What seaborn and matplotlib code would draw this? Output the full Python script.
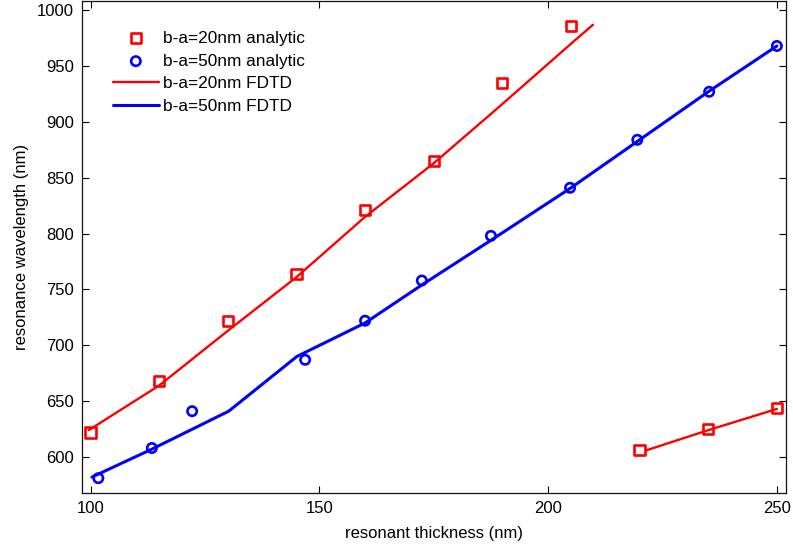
import numpy as np
import pandas as pd
import seaborn as sns
import matplotlib.pyplot as plt

# analytic results (markers)
t_red_an = [100, 115, 130, 145, 160, 175, 190, 205, 220, 235, 250]
w_red_an = [622, 668, 722, 764, 821, 865, 935, 986, 606, 625, 644]
t_blue_an = [101.7, 113.4, 122.2, 146.9, 160, 172.4, 187.5, 204.8, 219.5, 235.2, 250]
w_blue_an = [581, 608, 641, 687, 722, 758, 798, 841, 884, 927, 968]

# FDTD results (lines), red one has two branches
t_red_fd1 = [99.6, 115, 130, 145, 160, 175, 190, 205, 209.8]
w_red_fd1 = [624, 664, 713, 761, 815, 863, 916, 970, 987]
t_red_fd2 = [221.5, 235, 250]
w_red_fd2 = [606, 624, 643]
t_blue_fd = [100.3, 113.4, 130.2, 145.1, 160, 172.4, 187.5, 205, 220, 235, 250]
w_blue_fd = [582, 607, 641, 690, 720, 754, 794, 841, 884, 927, 968]

sns.set_style("ticks")
plt.rcParams['font.family'] = ['Liberation Sans', 'DejaVu Sans']
plt.rcParams['text.color'] = 'black'
plt.rcParams['axes.labelcolor'] = 'black'
plt.rcParams['xtick.color'] = 'black'
plt.rcParams['ytick.color'] = 'black'

fig = plt.figure(figsize=(7.93, 5.46), dpi=100)
ax = fig.add_axes([0.1038, 0.097, 0.8874, 0.9006])

sns.scatterplot(x=t_red_an, y=w_red_an, ax=ax, marker="s", s=55, facecolors="none",
                edgecolor="red", linewidth=1.9, label="b-a=20nm analytic", zorder=3)
sns.scatterplot(x=t_blue_an, y=w_blue_an, ax=ax, marker="o", s=45, facecolors="none",
                edgecolor="blue", linewidth=1.9, label="b-a=50nm analytic", zorder=3)
sns.lineplot(x=t_red_fd1, y=w_red_fd1, ax=ax, color="red", lw=1.7, sort=False,
             estimator=None, label="b-a=20nm FDTD")
sns.lineplot(x=t_red_fd2, y=w_red_fd2, ax=ax, color="red", lw=1.7, sort=False,
             estimator=None, label="_nolegend_")
sns.lineplot(x=t_blue_fd, y=w_blue_fd, ax=ax, color="blue", lw=2.2, sort=False,
             estimator=None, label="b-a=50nm FDTD")

ax.set_xlim(98.2, 252)
ax.set_ylim(567.7, 1008)
ax.set_xticks([100, 150, 200, 250])
ax.set_yticks(np.arange(600, 1001, 50))
ax.tick_params(direction="in", length=5, width=0.8, labelsize=12, top=True, right=True,
               pad=6)
for sp in ax.spines.values():
    sp.set_linewidth(0.9)
    sp.set_color("#111111")
    sp.set_visible(True)

ax.set_xlabel("resonant thickness (nm)", fontsize=12, labelpad=7)
ax.set_ylabel("resonance wavelength (nm)", fontsize=12, labelpad=6)

h, l = ax.get_legend_handles_labels()
ax.legend(h, l, loc="upper left", bbox_to_anchor=(0.043, 0.94), frameon=False,
          fontsize=12.4, borderpad=0, borderaxespad=0, handlelength=2.7,
          handletextpad=0.25, labelspacing=0.45)

fig.savefig("out.png", dpi=100)
